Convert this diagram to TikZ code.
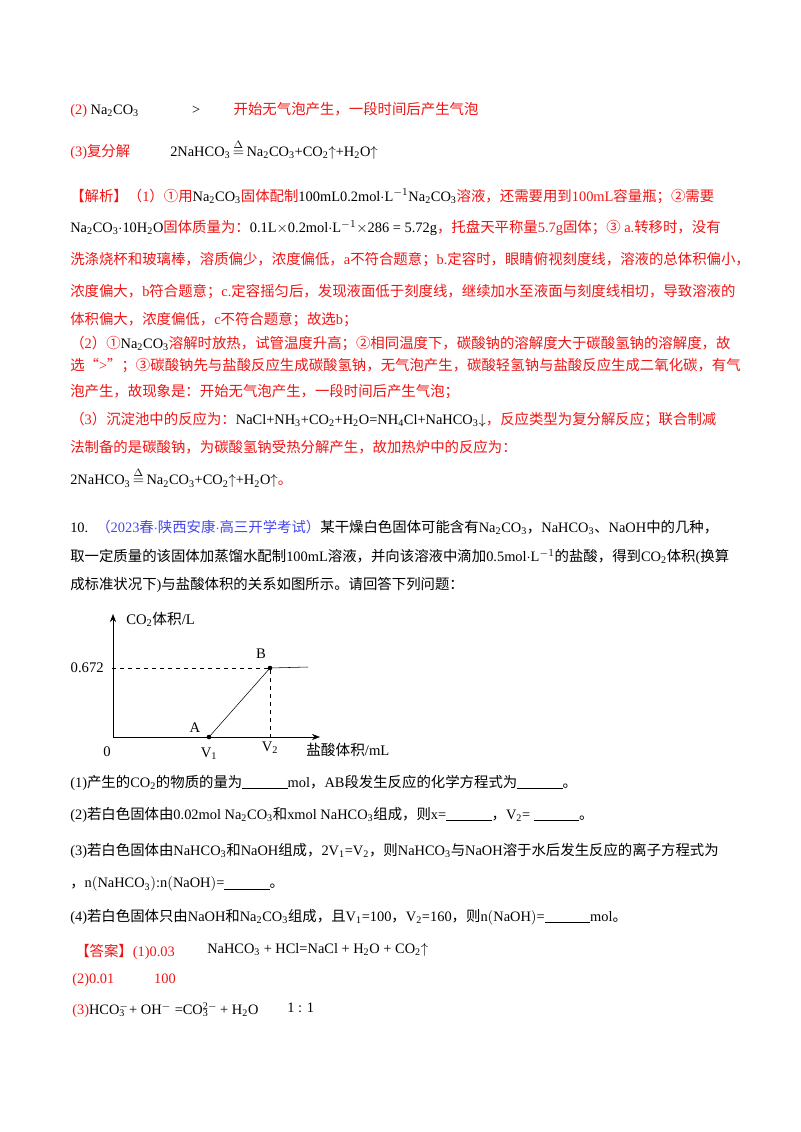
\documentclass[tikz,border=0pt]{standalone}
\usetikzlibrary{arrows.meta}
\usepackage{fontspec}
\setmainfont{Liberation Serif}
\newfontfamily\cjk{Noto Sans CJK SC}
\XeTeXinterchartokenstate=1
\newXeTeXintercharclass\CJKcl
\count255="4E00
\loop \XeTeXcharclass\count255=\CJKcl \ifnum\count255<"9FFF \advance\count255 1 \repeat
\count255="3000
\loop \XeTeXcharclass\count255=\CJKcl \ifnum\count255<"303F \advance\count255 1 \repeat
\count255="FF00
\loop \XeTeXcharclass\count255=\CJKcl \ifnum\count255<"FF5F \advance\count255 1 \repeat
\count255="2460
\loop \XeTeXcharclass\count255=\CJKcl \ifnum\count255<"2473 \advance\count255 1 \repeat
\XeTeXcharclass"201C=\CJKcl \XeTeXcharclass"201D=\CJKcl
\XeTeXinterchartoks 0 \CJKcl = {\begingroup\cjk}
\XeTeXinterchartoks 4095 \CJKcl = {\begingroup\cjk}
\XeTeXinterchartoks \CJKcl 0 = {\endgroup}
\XeTeXinterchartoks \CJKcl 4095 = {\endgroup}
\newcommand\sbs[1]{\textsubscript{#1}}
\newcommand\sps[1]{\textsuperscript{#1}}
\newcommand\ssp[2]{\rlap{\textsuperscript{#2}}\textsubscript{#1}\hspace{3pt}}
\newcommand\blank{\rule[-1pt]{34pt}{0.5pt}}
\newcommand\heat{\,$\stackrel{\Delta}{=}$\,}
\definecolor{rd}{RGB}{240,20,20}
\definecolor{bl}{RGB}{70,70,240}
\tikzset{t/.style={anchor=west,inner sep=0pt,font=\fontsize{10.8}{13}\selectfont},
 r/.style={t,text=rd}, k/.style={t,text=black}, lab/.style={inner sep=0pt,font=\fontsize{11}{13}\selectfont}}
\begin{document}
\begin{tikzpicture}[x=0.75pt,y=-0.75pt]
\useasboundingbox (0,0) rectangle (800,1132);
\node[r] (l1) at (70,110) {(2)\textcolor{black}{~Na\sbs{2}CO\sbs{3}}\hspace{40pt}\textcolor{black}{>}\hspace{25pt}开始无气泡产生，一段时间后产生气泡};
\node[r] (l2) at (70,150) {(3)复分解\hspace{30pt}\textcolor{black}{2NaHCO\sbs{3}\heat Na\sbs{2}CO\sbs{3}+CO\sbs{2}$\uparrow$+H\sbs{2}O$\uparrow$}};
\node[r] (l3) at (70,196) {【解析】（1）①用\textcolor{black}{Na\sbs{2}CO\sbs{3}}固体配制\textcolor{black}{100mL0.2mol$\cdot$L\sps{$-1$}Na\sbs{2}CO\sbs{3}}溶液，还需要用到100mL容量瓶；②需要};
\node[r] (l4) at (70,228) {\textcolor{black}{Na\sbs{2}CO\sbs{3}$\cdot$10H\sbs{2}O}固体质量为：\textcolor{black}{0.1L$\times$0.2mol$\cdot$L\sps{$-1$}$\times$286 = 5.72g}，托盘天平称量5.7g固体；③ a.转移时，没有};
\node[r] (l5) at (70,260) {洗涤烧杯和玻璃棒，溶质偏少，浓度偏低，a不符合题意；b.定容时，眼睛俯视刻度线，溶液的总体积偏小，};
\node[r] (l6) at (70,292) {浓度偏大，b符合题意；c.定容摇匀后，发现液面低于刻度线，继续加水至液面与刻度线相切，导致溶液的};
\node[r] (l7) at (70,320) {体积偏大，浓度偏低，c不符合题意；故选b；};
\node[r] (l8) at (70,343) {（2）①\textcolor{black}{Na\sbs{2}CO\sbs{3}}溶解时放热，试管温度升高；②相同温度下，碳酸钠的溶解度大于碳酸氢钠的溶解度，故};
\node[r] (l9) at (70,366) {选“>”；③碳酸钠先与盐酸反应生成碳酸氢钠，无气泡产生，碳酸轻氢钠与盐酸反应生成二氧化碳，有气};
\node[r] (l10) at (70,392) {泡产生，故现象是：开始无气泡产生，一段时间后产生气泡；};
\node[r] (l11) at (70,420) {（3）沉淀池中的反应为：\textcolor{black}{NaCl+NH\sbs{3}+CO\sbs{2}+H\sbs{2}O=NH\sbs{4}Cl+NaHCO\sbs{3}$\downarrow$}，反应类型为复分解反应；联合制减};
\node[r] (l12) at (70,447) {法制备的是碳酸钠，为碳酸氢钠受热分解产生，故加热炉中的反应为：};
\node[r] (l13) at (70,478) {\textcolor{black}{2NaHCO\sbs{3}\heat Na\sbs{2}CO\sbs{3}+CO\sbs{2}$\uparrow$+H\sbs{2}O$\uparrow$}。};
\node[k] (q0) at (70,527) {10.\hspace{6pt}\textcolor{bl}{（2023春$\cdot$陕西安康$\cdot$高三开学考试）}某干燥白色固体可能含有Na\sbs{2}CO\sbs{3}，NaHCO\sbs{3}、NaOH中的几种，};
\node[k] (q1) at (70,557) {取一定质量的该固体加蒸馏水配制100mL溶液，并向该溶液中滴加0.5mol$\cdot$L\sps{$-1$}的盐酸，得到CO\sbs{2}体积(换算};
\node[k] (q2) at (70,585) {成标准状况下)与盐酸体积的关系如图所示。请回答下列问题：};
% graph
\coordinate (O) at (113,737);
\coordinate (yt) at (113,614);
\coordinate (xr) at (320,737);
\coordinate (A) at (209,737);
\coordinate (B) at (270,668);
\coordinate (E) at (308,667);
\coordinate (Y) at (112,668);
\coordinate (V) at (270,737);
\draw[-{Stealth[length=6pt]}] (O) -- (yt);
\draw[-{Stealth[length=6pt]}] (O) -- (xr);
\draw (A) -- (B) -- (E);
\draw[dashed] (Y) -- (B) -- (V);
\fill (A) circle (2.3); \fill (B) circle (2.3);
\node[lab,anchor=west] (yl) at (126,619) {CO\sbs{2}体积/L};
\node[lab,anchor=east] (y672) at (104,668) {0.672};
\node[lab] (o) at (107,752) {0};
\node[lab] (v1) at (209,754) {V\sbs{1}};
\node[lab] (v2) at (270,748) {V\sbs{2}};
\node[lab,anchor=west] (xl) at (306,750) {盐酸体积/mL};
\node[lab] (la) at (195,728) {A};
\node[lab] (lb) at (261,654) {B};
% questions
\node[k] (a1) at (70,783) {(1)产生的CO\sbs{2}的物质的量为\blank mol，AB段发生反应的化学方程式为\blank 。};
\node[k] (a2) at (70,815) {(2)若白色固体由0.02mol Na\sbs{2}CO\sbs{3}和xmol NaHCO\sbs{3}组成，则x=\blank ，V\sbs{2}= \blank 。};
\node[k] (a3) at (70,851) {(3)若白色固体由NaHCO\sbs{3}和NaOH组成，2V\sbs{1}=V\sbs{2}，则NaHCO\sbs{3}与NaOH溶于水后发生反应的离子方程式为};
\node[k] (a4) at (70,884) {，n$\bigl($NaHCO\sbs{3}$\bigr)$:n$\bigl($NaOH$\bigr)$=\blank 。};
\node[k] (a5) at (70,917) {(4)若白色固体只由NaOH和Na\sbs{2}CO\sbs{3}组成，且V\sbs{1}=100，V\sbs{2}=160，则n$\bigl($NaOH$\bigr)$=\blank mol。};
% answers
\node[r] (b1) at (75,952) {【答案】(1)0.03};
\node[k] (b1e) at (207,950) {NaHCO\sbs{3} + HCl=NaCl + H\sbs{2}O + CO\sbs{2}$\uparrow$};
\node[r] (b2) at (72,980) {(2)0.01\hspace{30pt}100};
\node[r] (b3) at (72,1010) {(3)\textcolor{black}{HCO\ssp{3}{$-$}+ OH\sps{$-$} =CO\ssp{3}{2$-$}\; + H\sbs{2}O}};
\node[k] (b3r) at (287,1008) {1 : 1};
\end{tikzpicture}
\end{document}
